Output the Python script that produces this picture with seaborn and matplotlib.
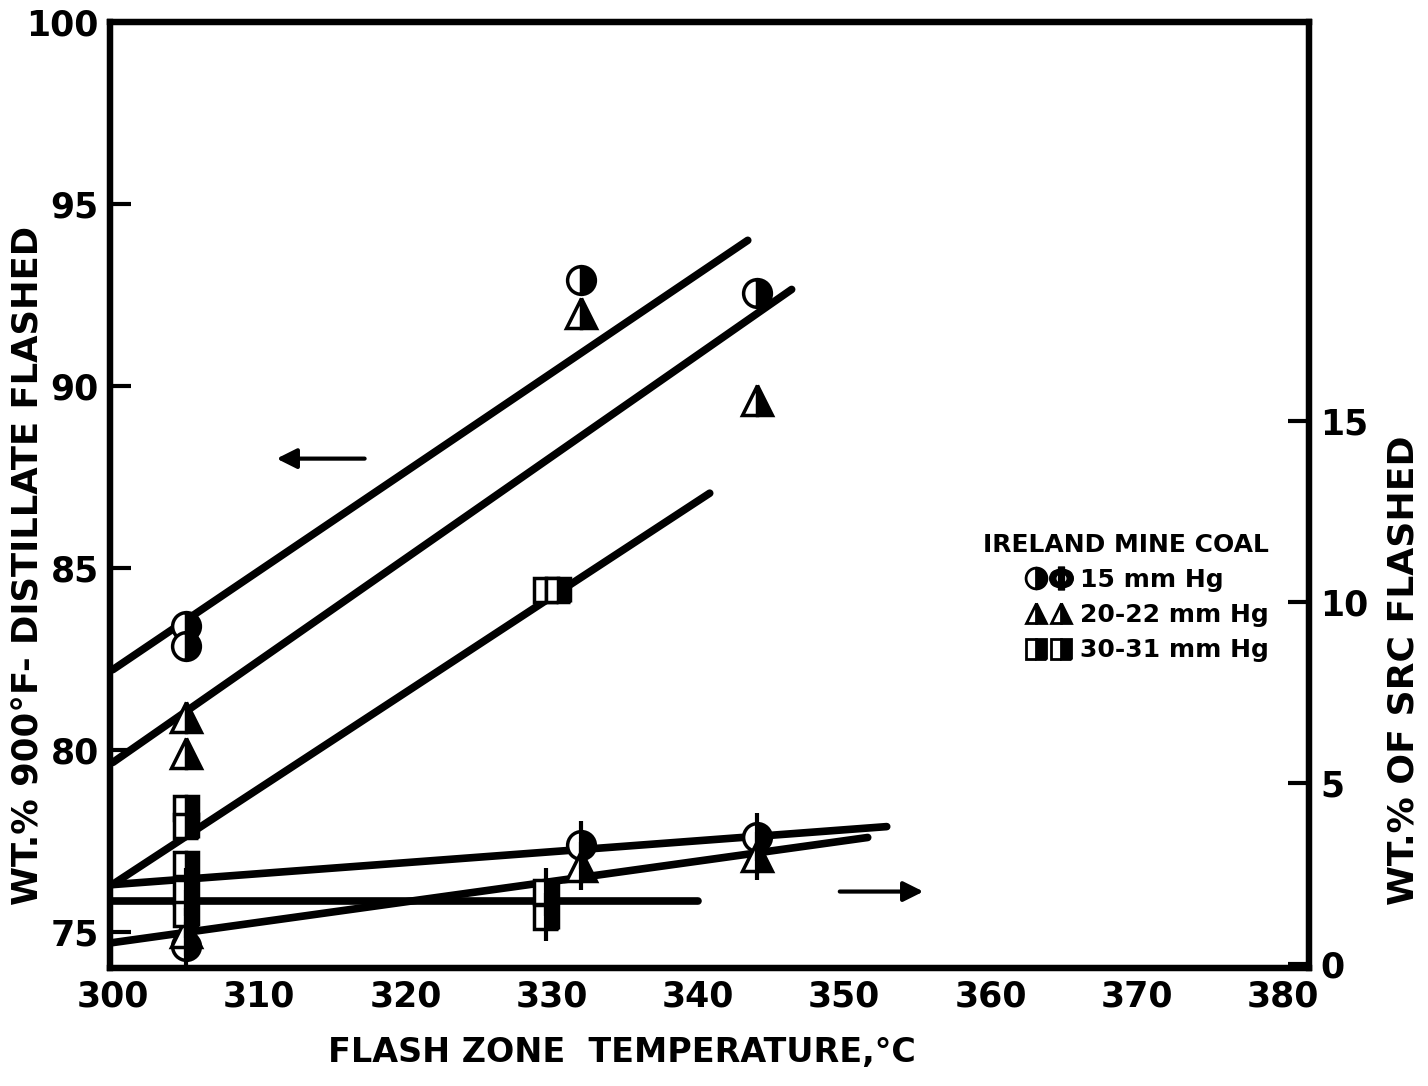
import matplotlib
matplotlib.use("Agg")
import matplotlib.pyplot as plt
from matplotlib.lines import Line2D
from matplotlib.legend_handler import HandlerTuple
import seaborn as sns
import pandas as pd

# ---- measured points: wt.% 900F- distillate flashed (left axis) ----
t_15 = [305, 305, 332, 344]
wt_15 = [83.4, 82.85, 92.9, 92.55]
t_20 = [305, 305, 332, 344]
wt_20 = [80.9, 79.9, 92.0, 89.6]
t_30 = [305, 305, 305, 329.6, 330.4]
wt_30 = [78.4, 77.9, 76.85, 84.4, 84.4]

# ---- measured points: wt.% of SRC flashed (right axis) ----
t_15_src = [305, 332, 344]
src_15 = [0.5, 3.3, 3.5]
t_20_src = [305, 332, 344]
src_20 = [0.9, 2.7, 3.0]
t_30_src = [305, 305, 329.6, 329.6]
src_30 = [2.0, 1.4, 2.0, 1.3]

# ---- correlating lines (end points) ----
fit_t_15 = [300, 343.4]
fit_wt_15 = [82.2, 94.0]
fit_t_20 = [300, 346.4]
fit_wt_20 = [79.65, 92.65]
fit_t_30 = [300, 340.8]
fit_wt_30 = [76.3, 87.05]
fit_t_15_src = [300, 352.9]
fit_src_15 = [2.2, 3.8]
fit_t_20_src = [300, 351.6]
fit_src_20 = [0.6, 3.5]
fit_t_30_src = [300, 340]
fit_src_30 = [1.75, 1.75]

x_ticks = [300, 310, 320, 330, 340, 350, 360, 370, 380]
left_ticks = [75, 80, 85, 90, 95, 100]
right_ticks = [0, 5, 10, 15]

sns.set_style("white")
plt.rcParams["font.family"] = ["DejaVu Sans"]
plt.rcParams["font.weight"] = "bold"
for key in ("text.color", "axes.labelcolor", "xtick.color", "ytick.color"):
    plt.rcParams[key] = "black"

fig = plt.figure(figsize=(14.28, 10.86), dpi=100)
ax = fig.add_axes([0.077, 0.1087, 0.84, 0.871])
ax2 = ax.twinx()

LW = 5.5
def fit_line(axis, t, v):
    df = pd.DataFrame({"t": t, "v": v})
    sns.lineplot(data=df, x="t", y="v", ax=axis, color="black", lw=LW,
                 solid_capstyle="round", legend=False)

fit_line(ax, fit_t_15, fit_wt_15)
fit_line(ax, fit_t_20, fit_wt_20)
fit_line(ax, fit_t_30, fit_wt_30)
fit_line(ax2, fit_t_15_src, fit_src_15)
fit_line(ax2, fit_t_20_src, fit_src_20)
fit_line(ax2, fit_t_30_src, fit_src_30)

half = dict(ls="none", mec="black", mfc="black", mfcalt="white",
            fillstyle="right", mew=2.5, zorder=5)
ax.plot(t_15, wt_15, marker="o", ms=20, **half)
ax.plot(t_20, wt_20, marker="^", ms=22, **half)
ax.plot(t_30, wt_30, marker="s", ms=17, **half)

ax2.plot(t_15_src, src_15, marker="o", ms=20, **half)
ax2.plot(t_20_src, src_20, marker="^", ms=22, **half)
ax2.plot(t_30_src, src_30, marker="s", ms=17, **half)
ax2.plot(t_15_src + t_20_src + t_30_src, src_15 + src_20 + src_30,
         ls="none", marker="|", ms=34, mew=3, color="black", zorder=6)

ax.set_xlim(299.8, 381.8)
ax.set_ylim(74.0, 100.0)
ax2.set_ylim(-0.1, 26.0)

ax.set_xticks(x_ticks)
ax.set_yticks(left_ticks)
ax2.set_yticks(right_ticks)
ax.set_xticklabels([str(v) for v in x_ticks])
ax.set_yticklabels([str(v) for v in left_ticks])
ax2.set_yticklabels([str(v) for v in right_ticks])

for lab in ax.get_xticklabels() + ax.get_yticklabels() + ax2.get_yticklabels():
    lab.set_fontsize(25)
    lab.set_fontweight("bold")

ax.tick_params(axis="x", direction="in", length=15, width=3, pad=8, top=False)
ax.tick_params(axis="y", direction="in", length=15, width=3, pad=8)
ax2.tick_params(axis="y", direction="in", length=15, width=3, pad=8)

for a in (ax, ax2):
    for s in a.spines.values():
        s.set_visible(True)
        s.set_linewidth(4.5)
        s.set_color("black")

ax.set_xlabel("FLASH ZONE  TEMPERATURE,°C", fontsize=24, fontweight="bold")
ax.xaxis.set_label_coords(0.427, -0.072)
ax.set_ylabel("WT.% 900°F- DISTILLATE FLASHED", fontsize=25.5,
              fontweight="bold")
ax.yaxis.set_label_coords(-0.054, 0.426)
ax2.set_ylabel("WT.% OF SRC FLASHED", fontsize=26, fontweight="bold")
ax2.yaxis.set_label_coords(1.064, 0.315)

# direction arrows pointing to the relevant axis
ax.annotate("", xy=(311.0, 88.0), xytext=(317.4, 88.0),
            arrowprops=dict(arrowstyle="-|>", color="black", lw=3,
                            mutation_scale=30))
ax.annotate("", xy=(355.6, 76.1), xytext=(349.5, 76.1),
            arrowprops=dict(arrowstyle="-|>", color="black", lw=3,
                            mutation_scale=30))

# key
mk = dict(ls="none", mec="black", mfc="black", mfcalt="white",
          fillstyle="right", mew=2)
h15 = (Line2D([], [], marker="o", ms=15, **mk),
       Line2D([], [], marker="$\\Phi$", ms=17, color="black", ls="none"))
h20 = (Line2D([], [], marker="^", ms=15, **mk),
       Line2D([], [], marker="^", ms=15, **mk))
h30 = (Line2D([], [], marker="s", ms=14, **mk),
       Line2D([], [], marker="s", ms=14, **mk))
leg = ax.legend([h15, h20, h30], ["15 mm Hg", "20-22 mm Hg", "30-31 mm Hg"],
                handler_map={tuple: HandlerTuple(ndivide=None, pad=0.1)},
                title="IRELAND MINE COAL", frameon=False,
                loc="upper right", bbox_to_anchor=(0.985, 0.484),
                prop=dict(size=18, weight="bold"), handlelength=1.9,
                handletextpad=0.3, labelspacing=0.45)
leg.get_title().set_fontsize(18)
leg.get_title().set_fontweight("bold")
leg._legend_box.align = "right"

fig.savefig("out.png", dpi=100)
